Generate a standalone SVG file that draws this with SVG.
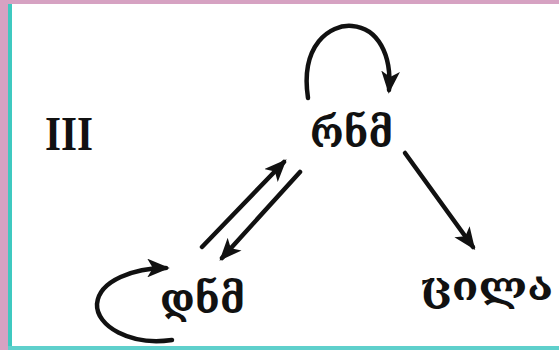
<svg xmlns="http://www.w3.org/2000/svg" width="559" height="350" viewBox="0 0 559 350">
<style>
.lbl{font-family:"DejaVu Serif","DejaVu Sans",serif;font-weight:bold;fill:#111}
.rom{font-family:"Liberation Serif",serif;font-weight:bold;fill:#111}
.con{fill:none;stroke:#111;stroke-width:4.5;stroke-linecap:round}
</style>
<defs>
<marker id="ah" viewBox="0 0 12 10" refX="10" refY="5" markerWidth="5" markerHeight="4.2" markerUnits="strokeWidth" orient="auto">
<path d="M0,0 L12,5 L0,10 L3,5 z" fill="#111"/>
</marker>
</defs>
<rect x="0" y="0" width="559" height="350" fill="#ffffff"/>
<rect x="0" y="0" width="559" height="4" fill="#d6a2c2"/>
<rect x="0" y="0" width="8" height="350" fill="#d6a2c2"/>
<rect x="8" y="4" width="4" height="346" fill="#3fc9c0"/>
<rect x="8" y="346" width="551" height="4" fill="#5fd0cc"/>
<g id="label-III"><text class="rom" x="45" y="150" font-size="48" textLength="48" lengthAdjust="spacingAndGlyphs">III</text></g>
<g id="node-rnm"><text class="lbl" x="310" y="147" font-size="42" textLength="83" lengthAdjust="spacingAndGlyphs">რნმ</text></g>
<g id="node-dnm"><text class="lbl" x="160" y="313" font-size="42" textLength="85" lengthAdjust="spacingAndGlyphs">დნმ</text></g>
<g id="node-cila"><text class="lbl" x="420" y="300" font-size="40" textLength="133" lengthAdjust="spacingAndGlyphs">ცილა</text></g>
<g id="connectors">
<path class="con" d="M308,98 C300,45 330,24 352,26 C378,28 392,55 389,90" marker-end="url(#ah)"/>
<path class="con" d="M172,340 C130,346 96,326 97,304 C99,280 135,268 166,268" marker-end="url(#ah)"/>
<path class="con" d="M202,247 L284,162" marker-end="url(#ah)"/>
<path class="con" d="M300,172 L222,258" marker-end="url(#ah)"/>
<path class="con" d="M405,153 L473,247" marker-end="url(#ah)"/>
</g>
</svg>
